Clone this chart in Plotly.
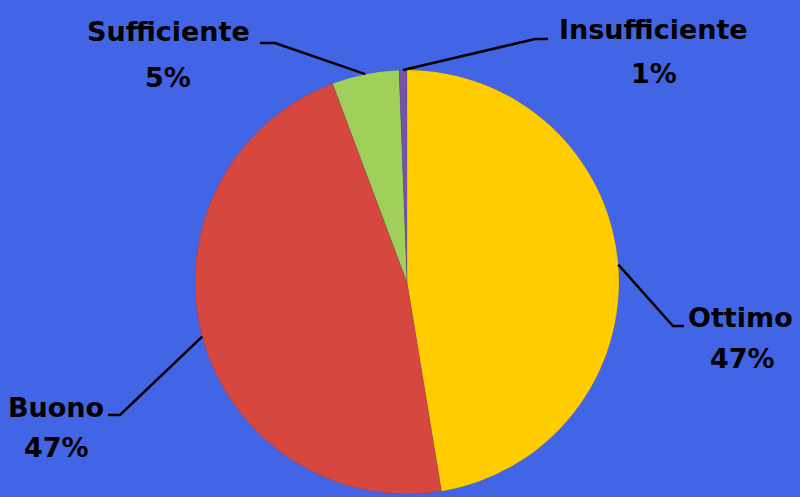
import math
import plotly.graph_objects as go

# ---- data ----
categories = ["Ottimo", "Buono", "Sufficiente", "Insufficiente"]
values = [47.4, 46.9, 5.1, 0.6]
pct_labels = ["47%", "47%", "5%", "1%"]
colors = ["#FFCC00", "#D5473F", "#A0D05A", "#7452A6"]

W, H = 800, 497
CX, CY, R = 407, 282, 212  # pie centre / radius in pixels (layout)

fig = go.Figure(go.Pie(
    labels=categories,
    values=values,
    sort=False,
    direction="clockwise",
    rotation=0,
    textinfo="none",
    hoverinfo="label+percent",
    marker=dict(colors=colors, line=dict(color="rgba(0,0,0,0.15)", width=0.5)),
    domain=dict(x=[(CX - R) / W, (CX + R) / W], y=[1 - (CY + R) / H, 1 - (CY - R) / H]),
    showlegend=False,
))

# label layout (elbow, end of leader, name centre, pct centre) in pixels
label_layout = {
    "Ottimo": dict(elbow=(673, 326), end=(684, 326), name=(740, 317), pct=(742, 358)),
    "Buono": dict(elbow=(120, 415), end=(108, 415), name=(56, 407), pct=(57, 447)),
    "Sufficiente": dict(elbow=(275, 43), end=(260, 43), name=(168, 32), pct=(168, 77)),
    "Insufficiente": dict(elbow=(535, 39), end=(548, 39), name=(653, 30), pct=(654, 74)),
}

def px(x):
    return x / W

def py(y):
    return 1 - y / H

total = sum(values)
cum = 0.0
shapes = []
annotations = []
font = dict(family="DejaVu Sans", size=27, color="black", weight="bold")
for cat, v, p in zip(categories, values, pct_labels):
    mid = (cum + v / 2) / total * 2 * math.pi
    cum += v
    sx = CX + R * math.sin(mid)
    sy = CY - R * math.cos(mid)
    L = label_layout[cat]
    ex, ey = L["elbow"]
    fx, fy = L["end"]
    shapes.append(dict(type="path", xref="paper", yref="paper",
                       path=f"M {px(sx)} {py(sy)} L {px(ex)} {py(ey)} L {px(fx)} {py(fy)}",
                       line=dict(color="black", width=2.5)))
    annotations.append(dict(text=cat, x=px(L["name"][0]), y=py(L["name"][1]), xref="paper", yref="paper",
                            showarrow=False, xanchor="center", yanchor="middle", font=font))
    annotations.append(dict(text=p, x=px(L["pct"][0]), y=py(L["pct"][1]), xref="paper", yref="paper",
                            showarrow=False, xanchor="center", yanchor="middle", font=font))

fig.update_layout(
    width=W, height=H,
    margin=dict(l=0, r=0, t=0, b=0),
    paper_bgcolor="#4265E6",
    plot_bgcolor="#4265E6",
    shapes=shapes,
    annotations=annotations,
)

fig.write_html(
    "out.html",
    config={"displayModeBar": False},
    post_script="document.body.style.margin='0';document.body.style.overflow='hidden';",
)
